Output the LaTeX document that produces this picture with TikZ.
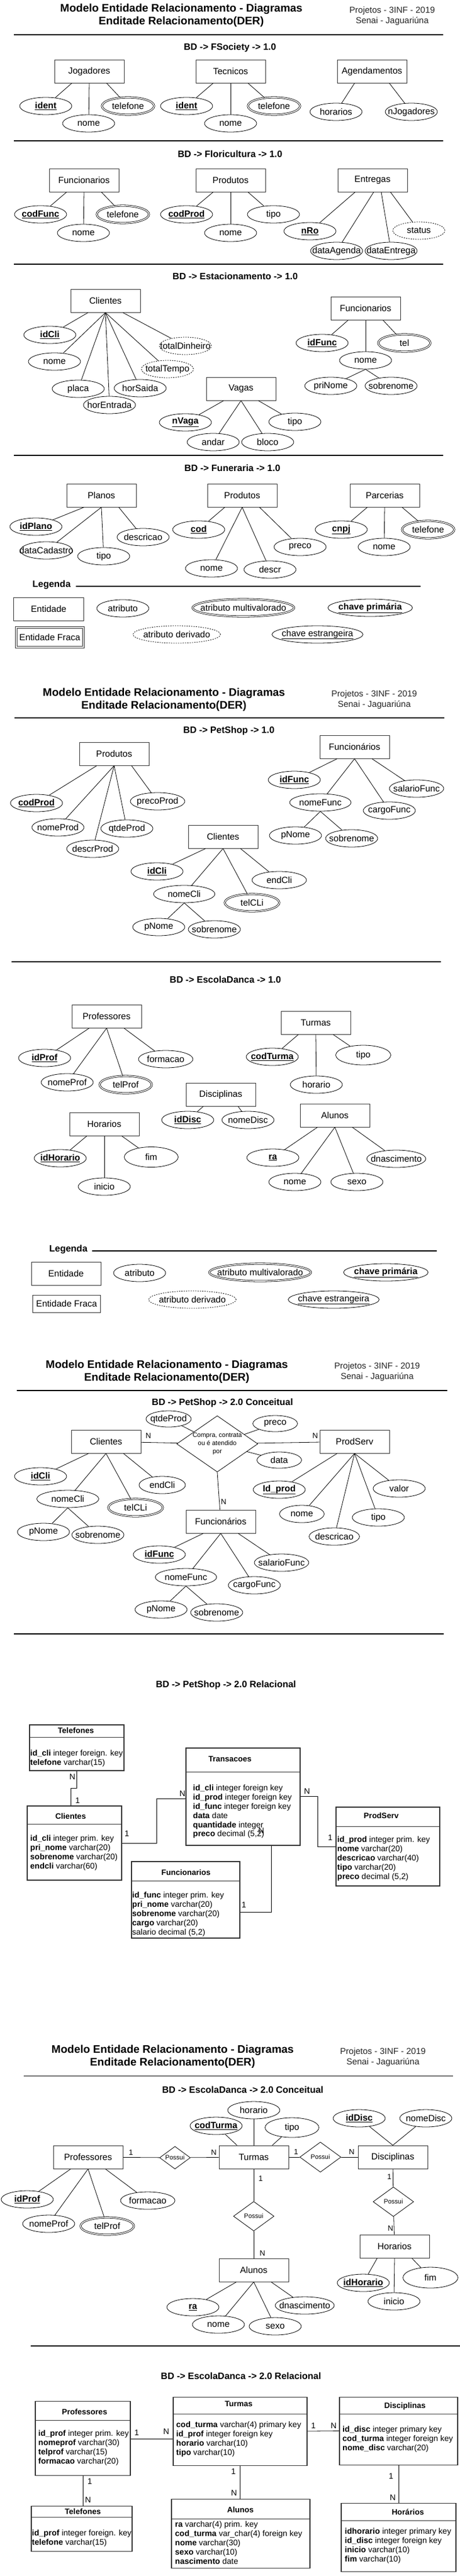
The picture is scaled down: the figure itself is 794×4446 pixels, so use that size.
\documentclass[tikz,border=0pt]{standalone}
\usepackage{fontspec}
\setmainfont{Liberation Sans}
\usepackage{tikz}
\usetikzlibrary{shapes.geometric}
\tikzstyle{ent} = [rectangle, draw=black!80, line width=1pt, minimum width=120pt, minimum height=40pt, inner sep=0pt, font=\fontsize{15.5}{18}\selectfont]
\tikzstyle{atr} = [ellipse, draw, line width=0.8pt, minimum width=90pt, minimum height=30pt, inner xsep=-16pt, inner ysep=-4pt, font=\fontsize{15.5}{18}\selectfont]
\tikzstyle{mva} = [atr, double, double distance=1.6pt]
\tikzstyle{der} = [atr, dash pattern=on 2pt off 2pt]
\tikzstyle{rel} = [diamond, draw, line width=0.8pt, aspect=1, inner sep=-3pt, font=\fontsize{11}{14}\selectfont, align=center]
\tikzstyle{lig} = [line width=0.8pt]
\tikzstyle{linha} = [line width=1.3pt]
\tikzstyle{titulo} = [font=\fontsize{19}{22}\selectfont\bfseries, align=center]
\tikzstyle{projeto} = [font=\fontsize{15}{18}\selectfont, align=center, text=black!85]
\tikzstyle{secao} = [font=\fontsize{16}{19}\selectfont\bfseries]
\tikzstyle{cardin} = [font=\fontsize{13}{15}\selectfont, inner sep=0pt]
\tikzstyle{tabela} = [rectangle, draw=black!80, line width=1.1pt, inner sep=0pt]
\tikzstyle{tabln} = [draw=black!80, line width=1pt]
\tikzstyle{tabtit} = [font=\fontsize{13.5}{16}\selectfont\bfseries]
\tikzstyle{tabtxt} = [font=\fontsize{14}{15.8}\selectfont, align=left, anchor=north west, inner sep=1pt]
\newcommand{\chave}[1]{\underline{\textbf{#1}}}

\begin{document}
\begin{tikzpicture}[x=1pt, y=-1pt]

  \path[fill=white, use as bounding box] (0,0) rectangle (794,4446);

  % Pagina 1
  \node[titulo] (tit1) at (313,27) {Modelo Entidade Relacionamento - Diagramas\\Enditade Relacionamento(DER)};
  \node[projeto] (proj1) at (677,28) {Projetos - 3INF - 2019\\Senai - Jaguariúna};
  \draw[linha] (24,60) -- (765,60);

  % BD -> FSociety -> 1.0
  \node[secao] (secFs) at (397,82) {BD -> FSociety -> 1.0};
  \node[ent] (jog) at (154,123) {Jogadores};
  \node[ent] (tec) at (398,123) {Tecnicos};
  \node[ent] (agd) at (642,123) {Agendamentos};
  \node[atr] (jogId) at (79,183) {\chave{ident}};
  \node[atr] (jogNome) at (153,213) {nome};
  \node[mva] (jogTel) at (221,183) {telefone};
  \node[atr] (tecId) at (322,183) {\chave{ident}};
  \node[atr] (tecNome) at (398,213) {nome};
  \node[mva] (tecTel) at (473,183) {telefone};
  \node[atr] (agdHor) at (580,193) {horarios};
  \node[atr] (agdNJog) at (710,193) {nJogadores};
  \draw[lig] ([xshift=-30pt]jog.south) -- (jogId);
  \draw[lig] (jog.south) -- (jogNome);
  \draw[lig] ([xshift=30pt]jog.south) -- (jogTel);
  \draw[lig] ([xshift=-30pt]tec.south) -- (tecId);
  \draw[lig] (tec.south) -- (tecNome);
  \draw[lig] ([xshift=30pt]tec.south) -- (tecTel);
  \draw[lig] ([xshift=-30pt]agd.south) -- (agdHor);
  \draw[lig] ([xshift=30pt]agd.south) -- (agdNJog);

  % BD -> Floricultura -> 1.0
  \draw[linha] (24,243) -- (765,243);
  \node[secao] (secFl) at (397,266) {BD -> Floricultura -> 1.0};
  \node[ent] (flFunc) at (145,311) {Funcionarios};
  \node[ent] (flProd) at (398,311) {Produtos};
  \node[ent] (flEnt) at (643,311) {Entregas};
  \node[atr] (flFuncCod) at (70,370) {\chave{codFunc}};
  \node[atr] (flFuncNome) at (144,402) {nome};
  \node[mva] (flFuncTel) at (212,370) {telefone};
  \node[atr] (flProdCod) at (322,370) {\chave{codProd}};
  \node[atr] (flProdNome) at (398,402) {nome};
  \node[atr] (flProdTipo) at (472,370) {tipo};
  \node[atr] (flEntNro) at (535,399) {\chave{nRo}};
  \node[atr] (flEntDAg) at (581,433) {dataAgenda};
  \node[atr] (flEntDEn) at (675,433) {dataEntrega};
  \node[der] (flEntSta) at (723,398) {status};
  \draw[lig] ([xshift=-30pt]flFunc.south) -- (flFuncCod);
  \draw[lig] (flFunc.south) -- (flFuncNome);
  \draw[lig] ([xshift=30pt]flFunc.south) -- (flFuncTel);
  \draw[lig] ([xshift=-30pt]flProd.south) -- (flProdCod);
  \draw[lig] (flProd.south) -- (flProdNome);
  \draw[lig] ([xshift=30pt]flProd.south) -- (flProdTipo);
  \draw[lig] ([xshift=-30pt]flEnt.south) -- (flEntNro);
  \draw[lig] ([xshift=2pt]flEnt.south) -- (flEntDAg);
  \draw[lig] ([xshift=15pt]flEnt.south) -- (flEntDEn);
  \draw[lig] ([xshift=31pt]flEnt.south) -- (flEntSta);

  % BD -> Estacionamento -> 1.0
  \draw[linha] (24,456) -- (765,456);
  \node[secao] (secEs) at (406,477) {BD -> Estacionamento -> 1.0};
  \node[ent] (esCli) at (182,519) {Clientes};
  \node[ent] (esFunc) at (631,532) {Funcionarios};
  \node[ent] (esVag) at (416,671) {Vagas};
  \node[atr] (esCliId) at (86,578) {\chave{idCli}};
  \node[atr] (esCliNome) at (94,624) {nome};
  \node[atr] (esCliPla) at (135,671) {placa};
  \node[atr] (esCliHEn) at (189,699) {horEntrada};
  \node[atr] (esCliHSa) at (242,670) {horSaida};
  \node[der] (esCliTT) at (289,637) {totalTempo};
  \node[der] (esCliTD) at (320,597) {totalDinheiro};
  \draw[lig] ([xshift=-30pt]esCli.south) -- (esCliId);
  \draw[lig] (esCli.south) -- (esCliNome);
  \draw[lig] (esCli.south) -- (esCliPla);
  \draw[lig] (esCli.south) -- (esCliHEn);
  \draw[lig] (esCli.south) -- (esCliHSa);
  \draw[lig] (esCli.south) -- (esCliTT);
  \draw[lig] ([xshift=30pt]esCli.south) -- (esCliTD);
  \node[atr] (esFuncId) at (556,592) {\chave{idFunc}};
  \node[mva] (esFuncTel) at (698,592) {tel};
  \node[atr] (esFuncNome) at (631,622) {nome};
  \node[atr] (esFuncPri) at (571,666) {priNome};
  \node[atr] (esFuncSob) at (675,666) {sobrenome};
  \draw[lig] ([xshift=-30pt]esFunc.south) -- (esFuncId);
  \draw[lig] (esFunc.south) -- (esFuncNome);
  \draw[lig] ([xshift=30pt]esFunc.south) -- (esFuncTel);
  \draw[lig] (esFuncNome.south) -- (esFuncPri);
  \draw[lig] (esFuncNome.south) -- (esFuncSob);
  \node[atr] (esVagN) at (320,729) {\chave{nVaga}};
  \node[atr] (esVagTipo) at (509,728) {tipo};
  \node[atr] (esVagAnd) at (368,763) {andar};
  \node[atr] (esVagBlo) at (462,763) {bloco};
  \draw[lig] ([xshift=-30pt]esVag.south) -- (esVagN);
  \draw[lig] (esVag.south) -- (esVagAnd);
  \draw[lig] (esVag.south) -- (esVagBlo);
  \draw[lig] ([xshift=30pt]esVag.south) -- (esVagTipo);

  % BD -> Funeraria -> 1.0
  \draw[linha] (24,786) -- (765,786);
  \node[secao] (secFu) at (401,808) {BD -> Funeraria -> 1.0};
  \node[ent] (fuPla) at (175,855) {Planos};
  \node[ent] (fuProd) at (418,855) {Produtos};
  \node[ent] (fuPar) at (664,855) {Parcerias};
  \node[atr] (fuPlaId) at (62,909) {\chave{idPlano}};
  \node[atr] (fuPlaDC) at (80,950) {dataCadastro};
  \node[atr] (fuPlaTipo) at (179,960) {tipo};
  \node[atr] (fuPlaDesc) at (247,927) {descricao};
  \draw[lig] ([xshift=-30pt]fuPla.south) -- (fuPlaId);
  \draw[lig] (fuPla.south) -- (fuPlaDC);
  \draw[lig] (fuPla.south) -- (fuPlaTipo);
  \draw[lig] ([xshift=30pt]fuPla.south) -- (fuPlaDesc);
  \node[atr] (fuProdCod) at (343,914) {\chave{cod}};
  \node[atr] (fuProdNome) at (365,981) {nome};
  \node[atr] (fuProdDescr) at (466,983) {descr};
  \node[atr] (fuProdPre) at (518,944) {preco};
  \draw[lig] ([xshift=-30pt]fuProd.south) -- (fuProdCod);
  \draw[lig] (fuProd.south) -- (fuProdNome);
  \draw[lig] (fuProd.south) -- (fuProdDescr);
  \draw[lig] ([xshift=30pt]fuProd.south) -- (fuProdPre);
  \node[atr] (fuParCnpj) at (589,914) {\chave{cnpj}};
  \node[atr] (fuParNome) at (663,944) {nome};
  \node[mva] (fuParTel) at (739,914) {telefone};
  \draw[lig] ([xshift=-30pt]fuPar.south) -- (fuParCnpj);
  \draw[lig] (fuPar.south) -- (fuParNome);
  \draw[lig] ([xshift=30pt]fuPar.south) -- (fuParTel);

  % Legenda
  \node[secao] (leg1) at (89,1009) {Legenda};
  \draw[linha] (131,1012) -- (726,1012);
  \node[ent, minimum width=121pt] (leg1Ent) at (84,1051) {Entidade};
  \node[atr] (leg1Atr) at (212,1050) {atributo};
  \node[mva, minimum width=175pt] (leg1Mva) at (420,1049) {atributo multivalorado};
  \node[atr, minimum width=146pt] (leg1Pk) at (639,1049) {\chave{chave primária}};
  \node[ent, double, double distance=1.6pt, minimum width=116pt, minimum height=34pt] (leg1Fra) at (86,1100) {Entidade Fraca};
  \node[der, minimum width=151pt] (leg1Der) at (305,1095) {atributo derivado};
  \node[atr, minimum width=157pt] (leg1Fk) at (548,1095) {\underline{chave estrangeira}};

  % Pagina 2
  \node[titulo] (tit2) at (283,1207.5) {Modelo Entidade Relacionamento - Diagramas\\Enditade Relacionamento(DER)};
  \node[projeto] (proj2) at (646,1208) {Projetos - 3INF - 2019\\Senai - Jaguariúna};
  \draw[linha] (25,1239) -- (767,1239);

  % BD -> PetShop -> 1.0
  \node[secao] (secP1) at (395,1261) {BD -> PetShop -> 1.0};
  \node[ent] (p1Prod) at (197,1301) {Produtos};
  \node[ent] (p1Func) at (612,1289) {Funcionários};
  \node[ent] (p1Cli) at (385,1444) {Clientes};
  \node[atr] (p1ProdCod) at (63,1386) {\chave{codProd}};
  \node[atr] (p1ProdNome) at (100,1428) {nomeProd};
  \node[atr] (p1ProdDescr) at (160,1465) {descrProd};
  \node[atr] (p1ProdQtde) at (219,1430) {qtdeProd};
  \node[atr, minimum width=94pt] (p1ProdPreco) at (272,1383) {precoProd};
  \draw[lig] ([xshift=-30pt]p1Prod.south) -- (p1ProdCod);
  \draw[lig] (p1Prod.south) -- (p1ProdNome);
  \draw[lig] (p1Prod.south) -- (p1ProdDescr);
  \draw[lig] (p1Prod.south) -- (p1ProdQtde);
  \draw[lig] ([xshift=30pt]p1Prod.south) -- (p1ProdPreco);
  \node[atr] (p1FuncId) at (508,1346) {\chave{idFunc}};
  \node[atr, minimum width=106pt] (p1FuncNome) at (553,1385) {nomeFunc};
  \node[atr, minimum width=94pt] (p1FuncSal) at (719,1361) {salarioFunc};
  \node[atr] (p1FuncCargo) at (672,1399) {cargoFunc};
  \node[atr] (p1FuncPNome) at (510,1442) {pNome};
  \node[atr] (p1FuncSob) at (607,1447) {sobrenome};
  \draw[lig] ([xshift=-30pt]p1Func.south) -- (p1FuncId);
  \draw[lig] (p1Func.south) -- (p1FuncNome);
  \draw[lig] (p1Func.south) -- (p1FuncCargo);
  \draw[lig] ([xshift=30pt]p1Func.south) -- (p1FuncSal);
  \draw[lig] (p1FuncNome.south) -- (p1FuncPNome);
  \draw[lig] (p1FuncNome.south) -- (p1FuncSob);
  \node[atr] (p1CliId) at (271,1504) {\chave{idCli}};
  \node[atr, minimum width=106pt] (p1CliNome) at (318,1543) {nomeCli};
  \node[mva, minimum width=94pt] (p1CliTel) at (435,1558) {telCLi};
  \node[atr, minimum width=94pt] (p1CliEnd) at (482,1519) {endCli};
  \node[atr] (p1CliPNome) at (274,1600) {pNome};
  \node[atr] (p1CliSob) at (370,1604) {sobrenome};
  \draw[lig] ([xshift=-30pt]p1Cli.south) -- (p1CliId);
  \draw[lig] (p1Cli.south) -- (p1CliNome);
  \draw[lig] (p1Cli.south) -- (p1CliTel);
  \draw[lig] ([xshift=30pt]p1Cli.south) -- (p1CliEnd);
  \draw[lig] (p1CliNome.south) -- (p1CliPNome);
  \draw[lig] (p1CliNome.south) -- (p1CliSob);

  % BD -> EscolaDanca -> 1.0
  \draw[linha] (20,1660) -- (761,1660);
  \node[secao] (secE1) at (389,1691) {BD -> EscolaDanca -> 1.0};
  \node[ent] (e1Prof) at (184,1754) {Professores};
  \node[ent] (e1Tur) at (545,1765) {Turmas};
  \node[ent] (e1Dis) at (381,1889) {Disciplinas};
  \node[ent] (e1Hor) at (180,1940) {Horarios};
  \node[ent] (e1Alu) at (578,1925) {Alunos};
  \node[atr] (e1ProfId) at (77,1826) {\chave{idProf}};
  \node[atr] (e1ProfNome) at (116,1868) {nomeProf};
  \node[mva] (e1ProfTel) at (217,1872) {telProf};
  \node[atr, minimum width=94pt] (e1ProfForm) at (286,1828) {formacao};
  \draw[lig] ([xshift=-30pt]e1Prof.south) -- (e1ProfId);
  \draw[lig] (e1Prof.south) -- (e1ProfNome);
  \draw[lig] (e1Prof.south) -- (e1ProfTel);
  \draw[lig] ([xshift=30pt]e1Prof.south) -- (e1ProfForm);
  \node[atr] (e1TurCod) at (470,1824) {\chave{codTurma}};
  \node[atr] (e1TurHor) at (546,1872) {horario};
  \node[atr, minimum width=95pt, minimum height=34pt] (e1TurTipo) at (627,1821) {tipo};
  \draw[lig] ([xshift=-30pt]e1Tur.south) -- (e1TurCod);
  \draw[lig] (e1Tur.south) -- (e1TurHor);
  \draw[lig] ([xshift=30pt]e1Tur.south) -- (e1TurTipo);
  \node[atr] (e1DisId) at (324,1933) {\chave{idDisc}};
  \node[atr] (e1DisNome) at (428,1933) {nomeDisc};
  \draw[lig] ([xshift=-30pt]e1Dis.south) -- (e1DisId);
  \draw[lig] ([xshift=30pt]e1Dis.south) -- (e1DisNome);
  \node[atr] (e1HorId) at (104,1999) {\chave{idHorario}};
  \node[atr] (e1HorIni) at (180,2048) {inicio};
  \node[atr, minimum width=93pt, minimum height=35pt] (e1HorFim) at (261,1997) {fim};
  \draw[lig] ([xshift=-30pt]e1Hor.south) -- (e1HorId);
  \draw[lig] (e1Hor.south) -- (e1HorIni);
  \draw[lig] ([xshift=30pt]e1Hor.south) -- (e1HorFim);
  \node[atr] (e1AluRa) at (471,1998) {\chave{ra}};
  \node[atr] (e1AluNome) at (509,2040) {nome};
  \node[atr] (e1AluSexo) at (616,2040) {sexo};
  \node[atr, minimum width=102pt] (e1AluDn) at (684,2000) {dnascimento};
  \draw[lig] ([xshift=-30pt]e1Alu.south) -- (e1AluRa);
  \draw[lig] (e1Alu.south) -- (e1AluNome);
  \draw[lig] (e1Alu.south) -- (e1AluSexo);
  \draw[lig] ([xshift=30pt]e1Alu.south) -- (e1AluDn);

  % Legenda
  \node[secao] (leg2) at (118,2156) {Legenda};
  \draw[linha] (159,2159) -- (754,2159);
  \node[ent] (leg2Ent) at (114,2198) {Entidade};
  \node[atr] (leg2Atr) at (241,2197) {atributo};
  \node[mva, minimum width=175pt] (leg2Mva) at (449,2196) {atributo multivalorado};
  \node[atr, minimum width=146pt] (leg2Pk) at (666,2196) {\chave{chave primária}};
  \node[ent, minimum width=117pt, minimum height=30pt] (leg2Fra) at (115,2250) {Entidade Fraca};
  \node[der, minimum width=151pt] (leg2Der) at (332,2243) {atributo derivado};
  \node[atr, minimum width=157pt] (leg2Fk) at (576,2243) {\underline{chave estrangeira}};

  % Pagina 3
  \node[titulo] (tit3) at (288,2367.5) {Modelo Entidade Relacionamento - Diagramas\\Enditade Relacionamento(DER)};
  \node[projeto] (proj3) at (651,2368) {Projetos - 3INF - 2019\\Senai - Jaguariúna};
  \draw[linha] (29,2400) -- (772,2400);

  % BD -> PetShop -> 2.0 Conceitual
  \node[secao] (secP2) at (384,2421) {BD -> PetShop -> 2.0 Conceitual};
  \node[rel, aspect=1.44, minimum width=140pt, minimum height=97pt] (p2Rel) at (375,2492) {Compra, contrata\\ou é atendido\\por};
  \node[ent] (p2Cli) at (183,2488) {Clientes};
  \node[ent] (p2PS) at (612,2488) {ProdServ};
  \node[ent] (p2Func) at (381,2626) {Funcionários};
  \draw[lig] (p2Cli) -- (p2Rel) -- (p2PS);
  \draw[lig] (p2Rel.south) -- (p2Func);
  \node[cardin] (p2N1) at (256,2478) {N};
  \node[cardin] (p2N2) at (544,2478) {N};
  \node[cardin] (p2N3) at (386,2592) {N};
  \node[atr, minimum width=78pt, minimum height=28pt] (p2RelQtd) at (291,2449) {qtdeProd};
  \node[atr, minimum width=77pt, minimum height=28pt] (p2RelPre) at (475,2457) {preco};
  \node[atr, minimum width=77pt, minimum height=28pt] (p2RelData) at (482,2520) {data};
  \draw[lig] (p2RelQtd) -- (p2Rel);
  \draw[lig] (p2RelPre) -- (p2Rel);
  \draw[lig] (p2RelData) -- (p2Rel);
  \node[atr] (p2CliId) at (70,2548) {\chave{idCli}};
  \node[atr, minimum width=107pt] (p2CliNome) at (117,2587) {nomeCli};
  \node[atr, minimum width=80pt] (p2CliEnd) at (280,2563) {endCli};
  \node[mva, minimum width=94pt] (p2CliTel) at (234,2602) {telCLi};
  \node[atr] (p2CliPNome) at (75,2644) {pNome};
  \node[atr] (p2CliSob) at (169,2649) {sobrenome};
  \draw[lig] ([xshift=-30pt]p2Cli.south) -- (p2CliId);
  \draw[lig] (p2Cli.south) -- (p2CliNome);
  \draw[lig] (p2Cli.south) -- (p2CliTel);
  \draw[lig] ([xshift=30pt]p2Cli.south) -- (p2CliEnd);
  \draw[lig] (p2CliNome.south) -- (p2CliPNome);
  \draw[lig] (p2CliNome.south) -- (p2CliSob);
  \node[atr] (p2PSId) at (482,2571) {\chave{Id\_prod}};
  \node[atr] (p2PSVal) at (689,2569) {valor};
  \node[atr, minimum width=77pt] (p2PSNome) at (521,2613) {nome};
  \node[atr] (p2PSTipo) at (653,2619) {tipo};
  \node[atr, minimum width=87pt] (p2PSDesc) at (577,2652) {descricao};
  \draw[lig] ([xshift=-30pt]p2PS.south) -- (p2PSId);
  \draw[lig] (p2PS.south) -- (p2PSNome);
  \draw[lig] (p2PS.south) -- (p2PSDesc);
  \draw[lig] (p2PS.south) -- (p2PSTipo);
  \draw[lig] (p2PS.south) -- (p2PSVal);
  \node[atr] (p2FuncId) at (275,2683) {\chave{idFunc}};
  \node[atr, minimum width=106pt] (p2FuncNome) at (321,2722) {nomeFunc};
  \node[atr, minimum width=94pt] (p2FuncSal) at (486,2697) {salarioFunc};
  \node[atr] (p2FuncCargo) at (439,2736) {cargoFunc};
  \node[atr] (p2FuncPNome) at (278,2778) {pNome};
  \node[atr] (p2FuncSob) at (374,2783) {sobrenome};
  \draw[lig] ([xshift=-30pt]p2Func.south) -- (p2FuncId);
  \draw[lig] (p2Func.south) -- (p2FuncNome);
  \draw[lig] (p2Func.south) -- (p2FuncCargo);
  \draw[lig] ([xshift=30pt]p2Func.south) -- (p2FuncSal);
  \draw[lig] (p2FuncNome.south) -- (p2FuncPNome);
  \draw[lig] (p2FuncNome.south) -- (p2FuncSob);

  % BD -> PetShop -> 2.0 Relacional
  \draw[linha] (24,2820) -- (766,2820);
  \node[secao] (secP3) at (390,2908) {BD -> PetShop -> 2.0 Relacional};
  \node[tabela, minimum width=163pt, minimum height=79pt] (rTel) at (132.5,3016.5) {};
  \node[tabtit] (rTelTit) at (131,2987) {Telefones};
  \draw[tabln] (51,2998) -- (214,2998);
  \node[tabtxt] (rTelTxt) at (51,3019.5) {\textbf{id\_cli} integer foreign. key\\\textbf{telefone} varchar(15)};
  \node[tabela, minimum width=163pt, minimum height=128pt] (rCli) at (128.5,3181) {};
  \node[tabtit] (rCliTit) at (122,3135) {Clientes};
  \draw[tabln] (47,3148) -- (210,3148);
  \node[tabtxt] (rCliTxt) at (51,3166.5) {\textbf{id\_cli} integer prim. key\\\textbf{pri\_nome} varchar(20)\\\textbf{sobrenome} varchar(20)\\\textbf{endcli} varchar(60)};
  \node[tabela, minimum width=197pt, minimum height=168pt] (rTra) at (419.5,3101) {};
  \node[tabtit] (rTraTit) at (397,3036) {Transacoes};
  \draw[tabln] (321,3058) -- (518,3058);
  \node[tabtxt] (rTraTxt) at (332,3079.5) {\textbf{id\_cli} integer foreign key\\\textbf{id\_prod} integer foreign key\\\textbf{id\_func} integer foreign key\\\textbf{data} date\\\textbf{quantidade} integer\\\textbf{preco} decimal (5,2)};
  \node[tabela, minimum width=179pt, minimum height=136pt] (rPS) at (669.5,3187) {};
  \node[tabtit] (rPSTit) at (658,3134) {ProdServ};
  \draw[tabln] (580,3152) -- (759,3152);
  \node[tabtxt] (rPSTxt) at (581,3168.5) {\textbf{id\_prod} integer prim. key\\\textbf{nome} varchar(20)\\\textbf{descricao} varchar(40)\\\textbf{tipo} varchar(20)\\\textbf{preco} decimal (5,2)};
  \node[tabela, minimum width=187pt, minimum height=132pt] (rFun) at (320.5,3279) {};
  \node[tabtit] (rFunTit) at (321,3232) {Funcionarios};
  \draw[tabln] (227,3246) -- (414,3246);
  \node[tabtxt] (rFunTxt) at (227,3264.5) {\textbf{id\_func} integer prim. key\\\textbf{pri\_nome} varchar(20)\\\textbf{sobrenome} varchar(20)\\\textbf{cargo} varchar(20)\\salario decimal (5,2)};
  \draw[lig] (rTel.south) -- ++(0,30) -| ([xshift=-6.5pt]rCli.north);
  \draw[lig] (rCli.east) -- ++(60,0) |- ([yshift=-3pt]rTra.west);
  \draw[lig] ([yshift=1pt]rTra.east) -- ++(30,0) |- (rPS.west);
  \draw[lig] ([xshift=48.5pt]rTra.south) |- ([yshift=-21pt]rFun.east);
  \node[cardin, font=\fontsize{14}{16}\selectfont] (rN1) at (125,3067) {N};
  \node[cardin, font=\fontsize{14}{16}\selectfont] (rU1) at (134,3108) {1};
  \node[cardin, font=\fontsize{14}{16}\selectfont] (rU2) at (219,3165) {1};
  \node[cardin, font=\fontsize{14}{16}\selectfont] (rN2) at (315,3096) {N};
  \node[cardin, font=\fontsize{14}{16}\selectfont] (rN3) at (530,3092) {N};
  \node[cardin, font=\fontsize{14}{16}\selectfont] (rU3) at (570,3172) {1};
  \node[cardin, font=\fontsize{14}{16}\selectfont] (rU4) at (421,3288) {1};
  \node[cardin, font=\fontsize{14}{16}\selectfont] (rN4) at (451,3160) {N};

  % Pagina 4
  \node[titulo] (tit4) at (298,3550) {Modelo Entidade Relacionamento - Diagramas\\Enditade Relacionamento(DER)};
  \node[projeto] (proj4) at (661,3551) {Projetos - 3INF - 2019\\Senai - Jaguariúna};
  \draw[linha, draw=black!55, line width=1.6pt] (41,3583) -- (782,3583);

  % BD -> EscolaDanca -> 2.0 Conceitual
  \node[secao] (secE2) at (419,3607) {BD -> EscolaDanca -> 2.0 Conceitual};
  \node[ent] (e2Prof) at (152,3723) {Professores};
  \node[ent] (e2Tur) at (438,3723) {Turmas};
  \node[ent] (e2Dis) at (678,3723) {Disciplinas};
  \node[ent] (e2Alu) at (438,3918) {Alunos};
  \node[ent] (e2Hor) at (681,3877) {Horarios};
  \node[rel, minimum width=53pt, minimum height=39pt] (e2Rel1) at (302,3724) {Possui};
  \node[rel, minimum width=71pt, minimum height=52pt] (e2Rel2) at (553,3723) {Possui};
  \node[rel, minimum width=70pt, minimum height=51pt] (e2Rel3) at (438,3825) {Possui};
  \node[rel, minimum width=70pt, minimum height=51pt] (e2Rel4) at (679,3800) {Possui};
  \draw[lig] (e2Prof) -- (e2Rel1) -- (e2Tur);
  \draw[lig] (e2Tur) -- (e2Rel2) -- (e2Dis);
  \draw[lig] (e2Tur) -- (e2Rel3) -- (e2Alu);
  \draw[lig] (e2Dis) -- (e2Rel4) -- (e2Hor);
  \node[cardin] (e2U1) at (226,3715) {1};
  \node[cardin] (e2N1) at (369,3715) {N};
  \node[cardin] (e2U2) at (511,3714) {1};
  \node[cardin] (e2N2) at (607,3714) {N};
  \node[cardin] (e2U3) at (450,3760) {1};
  \node[cardin] (e2N3) at (453,3889) {N};
  \node[cardin] (e2U4) at (672,3757) {1};
  \node[cardin] (e2N4) at (674,3846) {N};
  \node[atr] (e2TurCod) at (373,3669) {\chave{codTurma}};
  \node[atr] (e2TurHor) at (438,3642) {horario};
  \node[atr, minimum width=93pt, minimum height=34pt] (e2TurTipo) at (504,3672) {tipo};
  \draw[lig] (e2TurCod) -- ([xshift=-29pt]e2Tur.north);
  \draw[lig] (e2TurHor) -- (e2Tur.north);
  \draw[lig] (e2TurTipo) -- ([xshift=32pt]e2Tur.north);
  \node[atr] (e2DisId) at (620,3656) {\chave{idDisc}};
  \node[atr] (e2DisNome) at (735,3656) {nomeDisc};
  \draw[lig] (e2DisId) -- (e2Dis.north);
  \draw[lig] (e2DisNome) -- (e2Dis.north);
  \node[atr] (e2ProfId) at (47,3796) {\chave{idProf}};
  \node[atr, minimum width=94pt] (e2ProfForm) at (255,3798) {formacao};
  \node[atr] (e2ProfNome) at (84,3838) {nomeProf};
  \node[mva, minimum width=92pt] (e2ProfTel) at (185,3842) {telProf};
  \draw[lig] ([xshift=-30pt]e2Prof.south) -- (e2ProfId);
  \draw[lig] (e2Prof.south) -- (e2ProfNome);
  \draw[lig] (e2Prof.south) -- (e2ProfTel);
  \draw[lig] ([xshift=30pt]e2Prof.south) -- (e2ProfForm);
  \node[atr] (e2AluRa) at (333,3982) {\chave{ra}};
  \node[atr] (e2AluNome) at (377,4012) {nome};
  \node[atr] (e2AluSexo) at (475,4015) {sexo};
  \node[atr, minimum width=102pt] (e2AluDn) at (526,3979) {dnascimento};
  \draw[lig] ([xshift=-30pt]e2Alu.south) -- (e2AluRa);
  \draw[lig] (e2Alu.south) -- (e2AluNome);
  \draw[lig] (e2Alu.south) -- (e2AluSexo);
  \draw[lig] ([xshift=30pt]e2Alu.south) -- (e2AluDn);
  \node[atr] (e2HorId) at (627,3940) {\chave{idHorario}};
  \node[atr] (e2HorIni) at (680,3972) {inicio};
  \node[atr, minimum width=95pt, minimum height=36pt] (e2HorFim) at (743,3931) {fim};
  \draw[lig] ([xshift=-30pt]e2Hor.south) -- (e2HorId);
  \draw[lig] (e2Hor.south) -- (e2HorIni);
  \draw[lig] ([xshift=30pt]e2Hor.south) -- (e2HorFim);

  % BD -> EscolaDanca -> 2.0 Relacional
  \draw[linha] (53,4049) -- (794,4049);
  \node[secao] (secE3) at (416,4101) {BD -> EscolaDanca -> 2.0 Relacional};
  \node[tabela, minimum width=164pt, minimum height=128pt] (rProf) at (143,4208) {};
  \node[tabtit] (rProfTit) at (146,4163) {Professores};
  \draw[tabln] (61,4177) -- (225,4177);
  \node[tabtxt] (rProfTxt) at (65,4193.5) {\textbf{id\_prof} integer prim. key\\\textbf{nomeprof} varchar(30)\\\textbf{telprof} varchar(15)\\\textbf{formacao} varchar(20)};
  \node[tabela, minimum width=231pt, minimum height=118pt] (rTur) at (414.5,4196) {};
  \node[tabtit] (rTurTit) at (412,4149) {Turmas};
  \draw[tabln] (299,4166) -- (530,4166);
  \node[tabtxt] (rTurTxt) at (303,4178.5) {\textbf{cod\_turma} varchar(4) primary key\\\textbf{id\_prof} integer foreign key\\\textbf{horario} varchar(10)\\\textbf{tipo} varchar(10)};
  \node[tabela, minimum width=204pt, minimum height=117pt] (rDis) at (688,4195.5) {};
  \node[tabtit] (rDisTit) at (699,4153) {Disciplinas};
  \draw[tabln] (586,4166) -- (790,4166);
  \node[tabtxt] (rDisTxt) at (590,4186.5) {\textbf{id\_disc} integer primary key\\\textbf{cod\_turma} integer foreign key\\\textbf{nome\_disc} varchar(20)};
  \node[tabela, minimum width=174pt, minimum height=78pt] (rTel2) at (141,4364) {};
  \node[tabtit] (rTel2Tit) at (143,4335) {Telefones};
  \draw[tabln] (54,4344) -- (228,4344);
  \node[tabtxt] (rTel2Txt) at (54,4365.5) {\textbf{id\_prof} integer foreign. key\\\textbf{telefone} varchar(15)};
  \node[tabela, minimum width=239pt, minimum height=119pt] (rAlu) at (415.5,4372.5) {};
  \node[tabtit] (rAluTit) at (415,4332) {Alunos};
  \draw[tabln] (296,4347) -- (535,4347);
  \node[tabtxt] (rAluTxt) at (301,4350.5) {\textbf{ra} varchar(4) prim. key\\\textbf{cod\_turma} var\_char(4) foreign key\\\textbf{nome} varchar(30)\\\textbf{sexo} varchar(10)\\\textbf{nascimento} date};
  \node[tabela, minimum width=198pt, minimum height=118pt] (rHor) at (688,4379) {};
  \node[tabtit] (rHorTit) at (704,4336) {Horários};
  \draw[tabln] (589,4350) -- (787,4350);
  \node[tabtxt] (rHorTxt) at (594,4362.5) {\textbf{idhorario} integer primary key\\\textbf{id\_disc} integer foreign key\\\textbf{inicio} varchar(10)\\\textbf{fim} varchar(10)};
  \draw[lig] ([yshift=-1pt]rProf.east) -- ([yshift=-13pt]rTur.west);
  \draw[lig] (rTur.east) -- (rDis.west);
  \draw[lig] (rProf.south) -- (rProf.south |- rTel2.north);
  \draw[lig] (rTur.south) -- (rTur.south |- rAlu.north);
  \draw[lig] (rDis.south) -- (rHor.north);
  \node[cardin, font=\fontsize{14}{16}\selectfont] (r2U1) at (236,4199) {1};
  \node[cardin, font=\fontsize{14}{16}\selectfont] (r2N1) at (287,4197) {N};
  \node[cardin, font=\fontsize{14}{16}\selectfont] (r2U2) at (541,4187) {1};
  \node[cardin, font=\fontsize{14}{16}\selectfont] (r2N2) at (576,4187) {N};
  \node[cardin, font=\fontsize{14}{16}\selectfont] (r2U3) at (155,4283) {1};
  \node[cardin, font=\fontsize{14}{16}\selectfont] (r2N3) at (152,4315) {N};
  \node[cardin, font=\fontsize{14}{16}\selectfont] (r2U4) at (403,4266) {1};
  \node[cardin, font=\fontsize{14}{16}\selectfont] (r2N4) at (404,4303) {N};
  \node[cardin, font=\fontsize{14}{16}\selectfont] (r2U5) at (675,4274) {1};
  \node[cardin, font=\fontsize{14}{16}\selectfont] (r2N5) at (678,4311) {N};

\end{tikzpicture}
\end{document}
